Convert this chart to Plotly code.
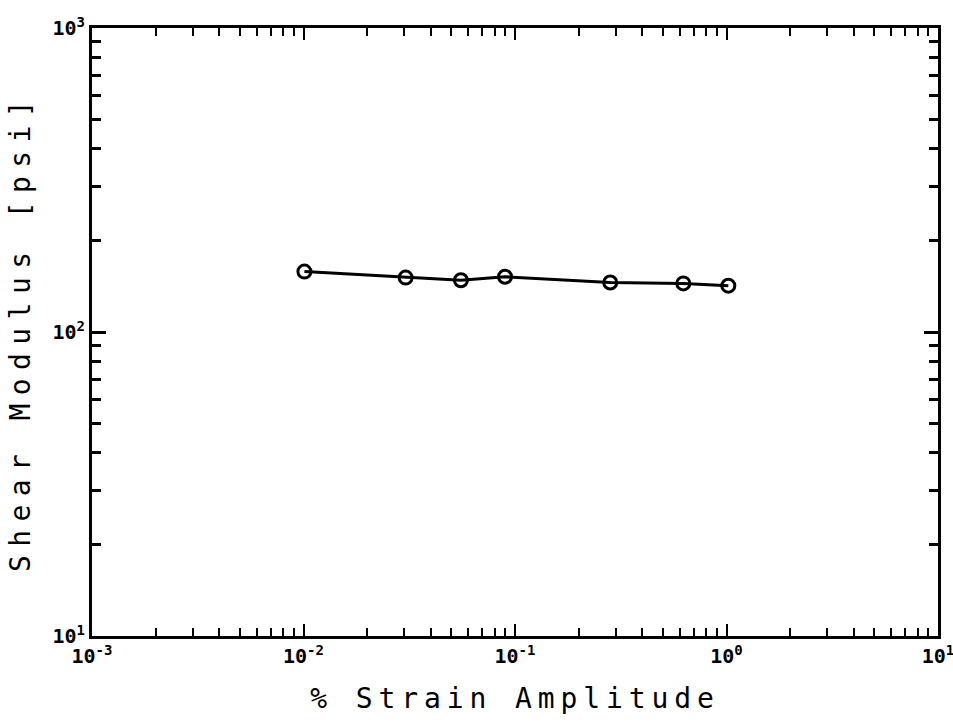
import plotly.graph_objects as go

strain = [0.0101, 0.0304, 0.0555, 0.0897, 0.282, 0.625, 1.02]
modulus = [158, 151, 148, 152, 145.5, 144.5, 142]

x_major = [1e-3, 1e-2, 1e-1, 1e0, 1e1]
x_major_text = ["10<sup>-3</sup>", "10<sup>-2</sup>", "10<sup>-1</sup>", "10<sup>0</sup>", "10<sup>1</sup>"]
y_major = [1e1, 1e2, 1e3]
y_major_text = ["10<sup>1</sup>", "10<sup>2</sup>", "10<sup>3</sup>"]

x_minor = [m * 10.0 ** e for e in range(-3, 1) for m in range(2, 10)]
y_minor = [m * 10.0 ** e for e in range(1, 3) for m in range(2, 10)]

fig = go.Figure()
fig.add_trace(go.Scatter(
    x=strain, y=modulus, mode="lines+markers",
    line=dict(color="black", width=3),
    marker=dict(symbol="circle-open", size=13, color="black", line=dict(width=3)),
    showlegend=False,
))

tick_font = dict(family="DejaVu Sans Mono", size=20, color="black", weight="bold")
title_font = dict(family="DejaVu Sans Mono", size=28, color="black")

fig.update_xaxes(
    type="log", range=[-3, 1],
    tickvals=x_major, ticktext=x_major_text,
    ticks="inside", ticklen=12, tickwidth=2, tickcolor="black",
    minor=dict(tickvals=x_minor, ticks="inside", ticklen=8, tickwidth=2, tickcolor="black"),
    showline=True, linewidth=3, linecolor="black", mirror="ticks",
    showgrid=False, zeroline=False, automargin=False,
    tickfont=tick_font, ticklabeloverflow="allow",
    title=dict(text='<span style="letter-spacing:5.9px">% Strain Amplitude</span>', font=title_font, standoff=22),
)
fig.update_yaxes(
    type="log", range=[1, 3],
    tickvals=y_major, ticktext=y_major_text,
    ticks="inside", ticklen=14, tickwidth=3, tickcolor="black",
    minor=dict(tickvals=y_minor, ticks="inside", ticklen=9, tickwidth=3, tickcolor="black"),
    showline=True, linewidth=3, linecolor="black", mirror="ticks",
    showgrid=False, zeroline=False, automargin=False,
    tickfont=tick_font, ticklabeloverflow="allow",
    title=dict(text='<span style="letter-spacing:8.4px">Shear Modulus [psi]</span>', font=title_font, standoff=14),
)

fig.update_layout(
    width=953, height=723,
    margin=dict(l=92, r=15, t=28, b=87),
    paper_bgcolor="white", plot_bgcolor="white",
)

fig.write_html("out.html")
